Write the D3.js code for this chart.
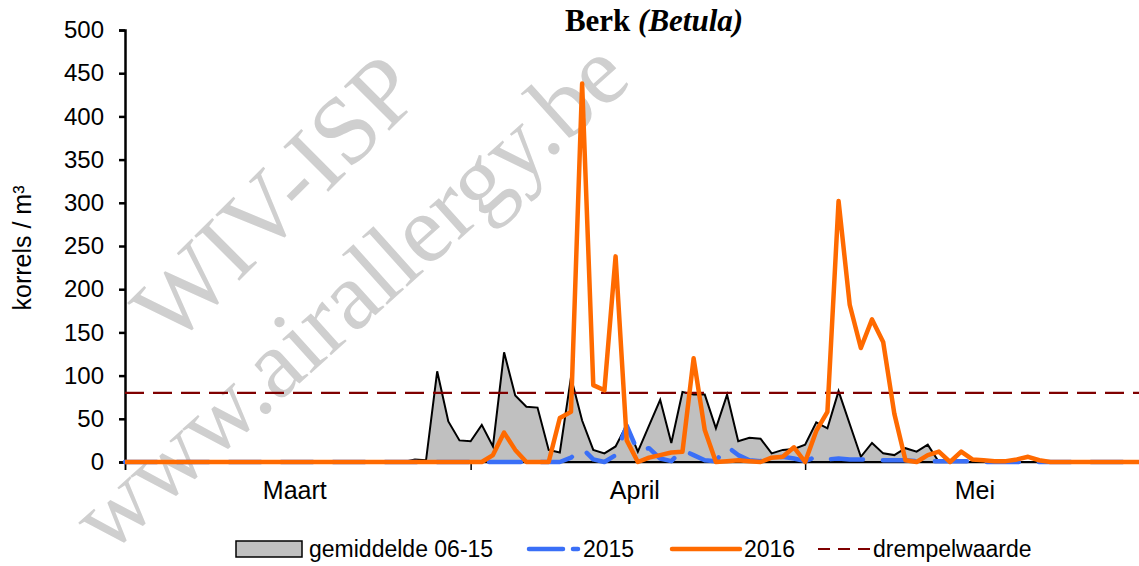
<!DOCTYPE html>
<html>
<head>
<meta charset="utf-8">
<script src="https://cdn.jsdelivr.net/npm/d3@7"></script>
<style>
  html, body { margin: 0; padding: 0; background: #fff; }
  svg { display: block; font-family: "Liberation Sans", Arial, sans-serif; }
</style>
</head>
<body>
<div id="chart"></div>
<script>
// day index 0 = 1 maart, 31 = 1 april, 61 = 1 mei
const months      = ["Maart", "April", "Mei"];
const monthStarts = [0, 31, 61, 92];
const yTicks      = [0, 50, 100, 150, 200, 250, 300, 350, 400, 450, 500];
const threshold   = 80;

// gemiddelde 06-15
const avg = [
  0, 0, 0, 0, 0, 0, 0, 0, 0, 0,
  0, 0, 0, 0, 0, 0, 0, 0, 0, 0,
  0, 0, 0, 0, 0, 0, 3, 2, 105, 47,
  25, 24, 43, 18, 127, 77, 64, 63, 14, 11,
  98, 48, 14, 10, 18, 43, 12, 42, 72, 22,
  81, 78, 78, 39, 78, 24, 28, 27, 10, 14,
  15, 20, 46, 39, 82, 44, 6, 22, 10, 8,
  16, 12, 20, 0, 0, 0, 0, 0, 0, 0,
  0, 0, 0, 0, 0, 0, 0, 0, 0, 0,
  0, 0
];

const y2015 = [
  0, 0, 0, 0, 0, 0, 0, 0, 0, 0,
  0, 0, 0, 0, 0, 0, 0, 0, 0, 0,
  0, 0, 0, 0, 0, 0, 0, 0, 0, 0,
  0, 0, 0, 0, 0, 0, 0, 0, 0, 0,
  5, 16, 3, 0, 8, 42, 12, 16, 4, 1,
  14, 8, 2, 1, 18, 8, 2, 1, 5, 6,
  4, 1, 6, 3, 4, 3, 3, 2, 2, 2,
  2, 1, 1, 1, 1, 1, 1, 0, 0, 0,
  0, 0, 0, 0, 0, 0, 0, 0, 0, 0,
  0, 0
];

const y2016 = [
  0, 0, 0, 0, 0, 0, 0, 0, 0, 0,
  0, 0, 0, 0, 0, 0, 0, 0, 0, 0,
  0, 0, 0, 0, 0, 0, 0, 0, 0, 0,
  0, 0, 0, 8, 34, 14, 0, 0, 0, 51,
  58, 438, 89, 83, 238, 25, 0, 5, 8, 11,
  12, 120, 37, 0, 1, 2, 1, 0, 5, 6,
  17, 0, 36, 58, 302, 182, 132, 165, 139, 56,
  2, 0, 8, 12, 0, 12, 3, 2, 1, 1,
  3, 6, 2, 0, 0, 0, 0, 0, 0, 0,
  0, 0
];

const W = 1139, H = 566;
const GRAY   = "#c0c0c0";
const BLUE   = "#3a6ff7";
const ORANGE = "#ff6a00";
const RED    = "#7f0000";

const svg = d3.select("#chart").append("svg")
  .attr("width", W).attr("height", H);

const x = d3.scaleLinear().domain([0, 91]).range([125, 1139.6]);
const y = d3.scaleLinear().domain([0, 500]).range([462, 30]);

// watermark
const wm = svg.append("g")
  .attr("font-family", "'Liberation Serif', 'Times New Roman', serif")
  .attr("fill", "#cfcfcf");
wm.append("text")
  .attr("transform", "translate(172,348) rotate(-45)")
  .attr("font-size", 97)
  .text("WIV-ISP");
wm.append("text")
  .attr("transform", "translate(108,556) rotate(-42)")
  .attr("font-size", 97)
  .text("www.airallergy.be");

// Axes (under the data, as in the original)
const yAxis = d3.axisLeft(y)
  .tickValues(yTicks)
  .tickSize(6)
  .tickPadding(15);

const gy = svg.append("g")
  .attr("transform", `translate(${x(0)},0)`)
  .call(yAxis);
gy.select(".domain").attr("stroke", "#000").attr("stroke-width", 2.5);
gy.selectAll(".tick line").attr("stroke", "#000").attr("stroke-width", 2.5);
gy.selectAll(".tick text")
  .attr("font-size", 24)
  .attr("font-family", "'Liberation Sans', Arial, sans-serif")
  .attr("fill", "#000");

const xAxis = d3.axisBottom(x)
  .tickValues(monthStarts.slice(0, 3))
  .tickSize(8)
  .tickFormat("");

const gx = svg.append("g")
  .attr("transform", `translate(0,${y(0)})`)
  .call(xAxis);
gx.select(".domain").attr("stroke", "#000").attr("stroke-width", 1.5);
gx.selectAll(".tick line").attr("stroke", "#000").attr("stroke-width", 1.5);

svg.append("g").selectAll("text")
  .data(months)
  .join("text")
    .attr("x", (d, i) => x((monthStarts[i] + monthStarts[i + 1]) / 2) - 3)
    .attr("y", 499)
    .attr("text-anchor", "middle")
    .attr("font-size", 25)
    .attr("fill", "#000")
    .text(d => d);

// gemiddelde area
const area = d3.area()
  .x((d, i) => x(i))
  .y0(y(0))
  .y1(d => y(d));

svg.append("path")
  .datum(avg)
  .attr("fill", GRAY)
  .attr("stroke", "#000")
  .attr("stroke-width", 2)
  .attr("d", area);

// drempelwaarde
svg.append("line")
  .attr("x1", x(0)).attr("x2", x(91))
  .attr("y1", y(threshold)).attr("y2", y(threshold))
  .attr("stroke", RED)
  .attr("stroke-width", 2.2)
  .attr("stroke-dasharray", "19 9");

const line = d3.line()
  .x((d, i) => x(i))
  .y(d => y(d));

svg.append("path")
  .datum(y2015)
  .attr("fill", "none")
  .attr("stroke", BLUE)
  .attr("stroke-width", 4.5)
  .attr("stroke-linecap", "round")
  .attr("stroke-linejoin", "round")
  .attr("stroke-dasharray", "32 20")
  .attr("d", line);

svg.append("path")
  .datum(y2016)
  .attr("fill", "none")
  .attr("stroke", ORANGE)
  .attr("stroke-width", 4.5)
  .attr("stroke-linejoin", "round")
  .attr("d", line);

// y label
svg.append("text")
  .attr("transform", "translate(31,248) rotate(-90)")
  .attr("text-anchor", "middle")
  .attr("font-size", 25)
  .attr("fill", "#000")
  .text("korrels / m³");

// title
const title = svg.append("text")
  .attr("x", 654).attr("y", 31)
  .attr("text-anchor", "middle")
  .attr("font-family", "'Liberation Serif', 'Times New Roman', serif")
  .attr("font-size", 31)
  .attr("font-weight", "bold")
  .attr("fill", "#000");
title.append("tspan").text("Berk ");
title.append("tspan").attr("font-style", "italic").text("(Betula)");

// legend
const lg = svg.append("g").attr("font-size", 23).attr("fill", "#000");
const ly = 549;

lg.append("rect")
  .attr("x", 236).attr("y", ly - 8)
  .attr("width", 66).attr("height", 16)
  .attr("fill", GRAY).attr("stroke", "#000").attr("stroke-width", 1.5);
lg.append("text").attr("x", 309).attr("y", ly + 8).text("gemiddelde 06-15");

lg.append("line")
  .attr("x1", 529).attr("x2", 578).attr("y1", ly).attr("y2", ly)
  .attr("stroke", BLUE).attr("stroke-width", 4.5)
  .attr("stroke-linecap", "round")
  .attr("stroke-dasharray", "34 10");
lg.append("text").attr("x", 583).attr("y", ly + 8).text("2015");

lg.append("line")
  .attr("x1", 672).attr("x2", 740).attr("y1", ly).attr("y2", ly)
  .attr("stroke", ORANGE).attr("stroke-width", 4.5)
  .attr("stroke-linecap", "round");
lg.append("text").attr("x", 744).attr("y", ly + 8).text("2016");

lg.append("line")
  .attr("x1", 818).attr("x2", 870).attr("y1", ly).attr("y2", ly)
  .attr("stroke", RED).attr("stroke-width", 2.2)
  .attr("stroke-dasharray", "12 8");
lg.append("text").attr("x", 873).attr("y", ly + 8).text("drempelwaarde");
</script>
</body>
</html>
